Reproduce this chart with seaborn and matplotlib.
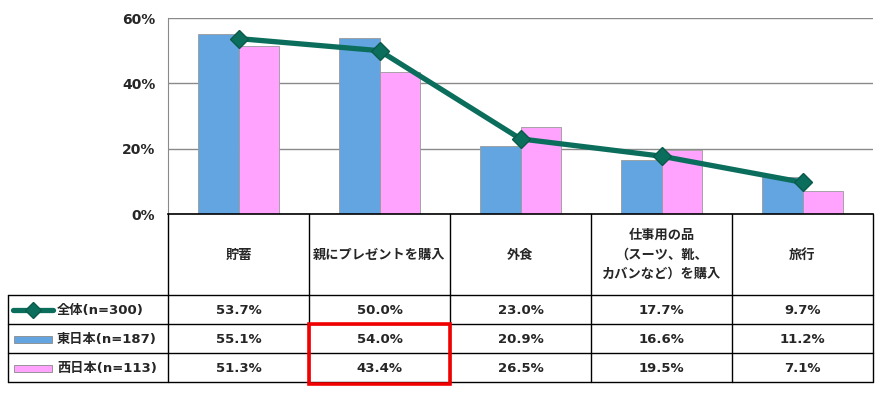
import matplotlib
matplotlib.use('Agg')
import matplotlib.pyplot as plt
import seaborn as sns
import pandas as pd
from matplotlib.patches import Rectangle

# ---- data ----
categories = ['貯蓄', '親にプレゼントを購入', '外食',
              '仕事用の品\n（スーツ、靴、\nカバンなど）を購入', '旅行']
series_names = ['全体(n=300)', '東日本(n=187)', '西日本(n=113)']
total = [53.7, 50.0, 23.0, 17.7, 9.7]
east = [55.1, 54.0, 20.9, 16.6, 11.2]
west = [51.3, 43.4, 26.5, 19.5, 7.1]
yticks = [0, 20, 40, 60]

# ---- style ----
sns.set_style('white')
plt.rcParams['font.family'] = ['DejaVu Sans', 'Noto Sans CJK JP']

BLUE = '#63A5E0'
PINK = '#FFA3FF'
TEAL = '#0B6E5C'

W, H = 884, 396
fig = plt.figure(figsize=(W / 100, H / 100), dpi=100)
L, R, T, B = 168, 873, 18, 214
ax = fig.add_axes([L / W, 1 - B / H, (R - L) / W, (B - T) / H])

df = pd.DataFrame({
    'cat': categories * 2,
    'val': east + west,
    'grp': [series_names[1]] * len(categories) + [series_names[2]] * len(categories),
})
sns.barplot(data=df, x='cat', y='val', hue='grp', order=categories,
            palette=[BLUE, PINK], saturation=1, width=0.57, gap=0, ax=ax,
            edgecolor='#9a9a9a', linewidth=0.6, legend=False, errorbar=None,
            zorder=2)
sns.pointplot(x=categories, y=total, order=categories, color=TEAL, markers='D',
              markersize=9, linewidth=3.8, markeredgecolor='#0a5a4a',
              markeredgewidth=1.0, errorbar=None, ax=ax, zorder=3)

ax.set_xlim(-0.5, len(categories) - 0.5)
ax.set_ylim(0, 60)
ax.set_yticks(yticks)
ax.set_yticklabels([f'{v}%' for v in yticks], fontsize=10, fontweight='bold')
ax.set_xticks([])
ax.set_xlabel('')
ax.set_ylabel('')
ax.yaxis.grid(True, color='#8a8a8a', linewidth=1.0)
ax.set_axisbelow(True)
for s in ['top', 'right']:
    ax.spines[s].set_visible(False)
ax.spines['left'].set_color('#8a8a8a')
ax.spines['bottom'].set_color('black')
ax.spines['bottom'].set_linewidth(1.2)
ax.tick_params(axis='y', direction='out', length=5, color='#8a8a8a', width=1, pad=4)
ax.patch.set_alpha(0)

# ---- data table below the chart ----
tab = fig.add_axes([0, 0, 1, 1])
tab.set_xlim(0, W)
tab.set_ylim(H, 0)
tab.axis('off')
tab.patch.set_alpha(0)

n = len(categories)
cols = [L + i * (R - L) / n for i in range(n + 1)]
rows = [B, 295, 324, 353, 382]
x0 = 8
lk = dict(color='black', linewidth=1.0)
for cx in cols:
    tab.plot([cx, cx], [rows[0], rows[-1]], **lk)
tab.plot([x0, x0], [rows[1], rows[-1]], **lk)
for ry in rows[1:]:
    tab.plot([x0, R], [ry, ry], **lk)

hdr_y = (rows[0] + rows[1]) / 2
for i, c in enumerate(categories):
    tab.text((cols[i] + cols[i + 1]) / 2, hdr_y, c, ha='center', va='center',
             fontsize=9.5, fontweight='bold', linespacing=1.5,
             family=['Noto Sans CJK JP', 'DejaVu Sans'])

series_vals = [total, east, west]
for r, vals in enumerate(series_vals):
    cy = (rows[r + 1] + rows[r + 2]) / 2
    for i, v in enumerate(vals):
        tab.text((cols[i] + cols[i + 1]) / 2, cy + 1, f'{v:.1f}%', ha='center',
                 va='center', fontsize=9.5, fontweight='bold')
    tab.text(57, cy + 1, series_names[r], ha='left', va='center', fontsize=9.5,
             fontweight='bold', family=['DejaVu Sans', 'Noto Sans CJK JP'])

# legend keys
cy0 = (rows[1] + rows[2]) / 2
tab.plot([13, 53], [cy0, cy0], color=TEAL, linewidth=3.8, solid_capstyle='round')
tab.plot([33], [cy0], marker='D', markersize=8, color=TEAL, markeredgecolor='#0a5a4a')
for r, col in [(1, BLUE), (2, PINK)]:
    cy = (rows[r + 1] + rows[r + 2]) / 2
    tab.add_patch(Rectangle((14, cy - 3), 38, 7, facecolor=col,
                            edgecolor='#8a8a8a', linewidth=0.6))

# red highlight box
tab.add_patch(Rectangle((308.5, 323.5), 141.5, 60, facecolor='none',
                        edgecolor='#F00000', linewidth=2.6, zorder=5))

fig.savefig('out.png', dpi=100)
